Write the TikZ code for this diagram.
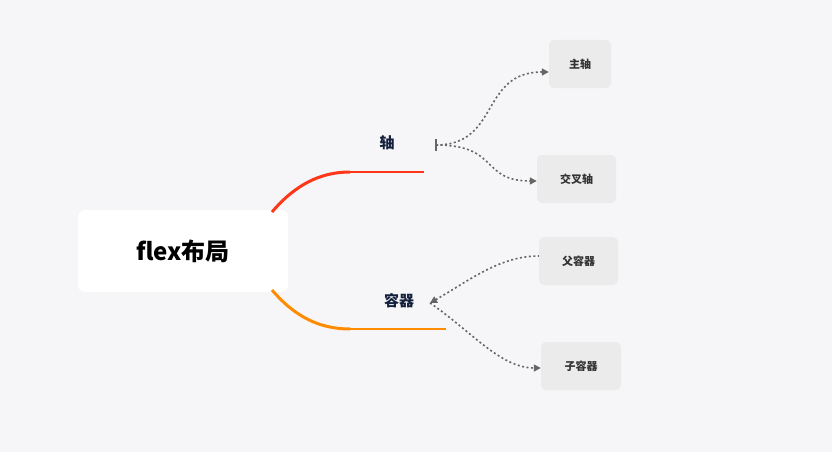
\documentclass[tikz,border=0pt]{standalone}
\usepackage{fontspec}
\setmainfont{Noto Sans CJK SC}
\usetikzlibrary{arrows.meta}
\definecolor{bg}{HTML}{F6F6F8}
\definecolor{leaf}{HTML}{EBEBEB}
\definecolor{navy}{HTML}{14213D}
\tikzset{
  leafbox/.style={fill=leaf,rounded corners=5pt,minimum height=48pt,inner sep=0pt,font=\bfseries\fontsize{11pt}{13pt}\selectfont,text=black!80},
  lbl/.style={font=\bfseries\fontsize{15pt}{17pt}\selectfont,text=navy},
  dot/.style={draw=black!60,line width=1.6pt,dash pattern=on 2pt off 2.5pt,-{Triangle[length=7pt,width=7pt]}},
}
\begin{document}
\begin{tikzpicture}[x=1pt,y=-1pt]
\useasboundingbox[fill=bg] (0,0) rectangle (832,452);
\node[fill=white,rounded corners=7pt,minimum width=210pt,minimum height=82pt,font=\bfseries\fontsize{24pt}{28pt}\selectfont] (root) at (183,251) {flex布局};
\draw[red!75!orange!90,line width=3pt] (272,212) .. controls (295,185) and (320,172) .. (350,172);
\draw[red!75!orange!90,line width=2pt] (350,172) -- (424,172);
\draw[orange!85!yellow!95!red,line width=3pt] (272,290) .. controls (295,317) and (320,329) .. (350,329);
\draw[orange!85!yellow!95!red,line width=2pt] (350,329) -- (446,329);
\node[lbl] (axis) at (387,143) {轴};
\node[lbl] (cont) at (399,301) {容器};
\coordinate (a0) at (436,145);
\coordinate (c0) at (430,303);
\node[leafbox,minimum width=62pt] (main) at (580,64) {主轴};
\node[leafbox,minimum width=79pt] (cross) at (576.5,179) {交叉轴};
\node[leafbox,minimum width=79pt] (par) at (578.5,261) {父容器};
\node[leafbox,minimum width=80pt] (child) at (581,366) {子容器};
\draw[draw=black!60,line width=1.6pt] (436,139) -- (436,151);
\draw[dot] (a0) .. controls (500,145) and (480,72) .. (main.west|-0,72);
\draw[dot] (a0) .. controls (500,145) and (480,181) .. (cross.west|-0,181);
\draw[dot,{Triangle[length=7pt,width=7pt]}-] (c0) .. controls (470,280) and (500,256) .. (par.west|-0,256);
\draw[dot] (c0) .. controls (470,330) and (500,368) .. (child.west|-0,368);
\end{tikzpicture}
\end{document}
